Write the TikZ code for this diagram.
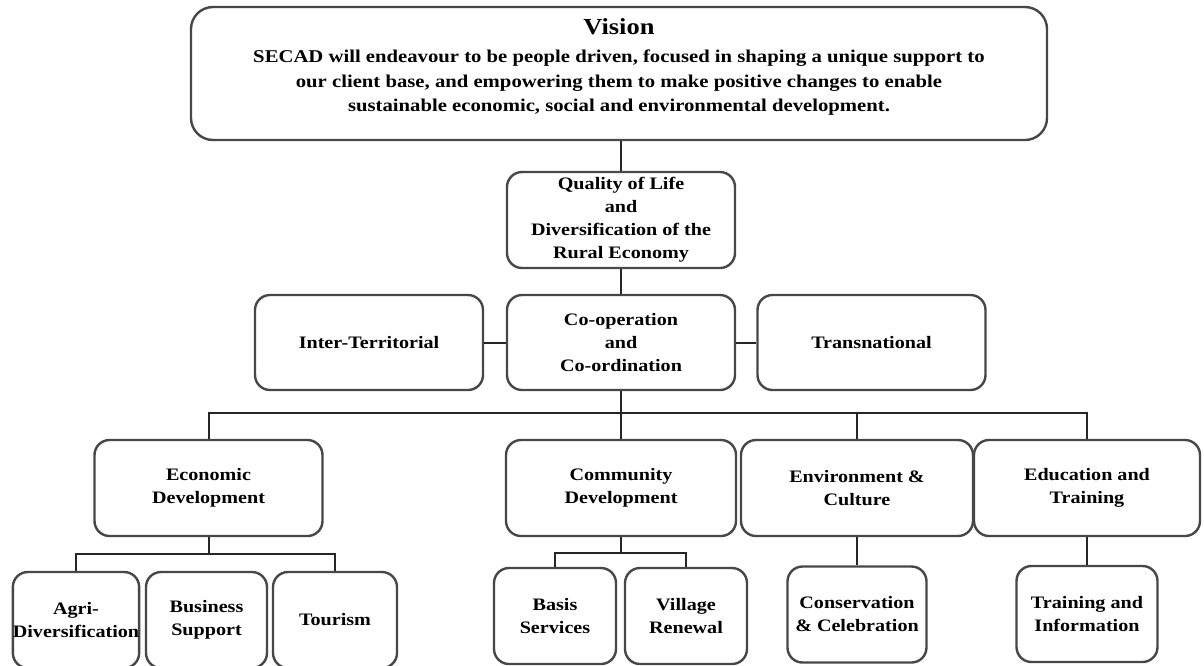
\documentclass[tikz,border=0pt]{standalone}
\usepackage{fontspec}
\setmainfont{Liberation Serif}[FakeStretch=1.15]
\usepackage{tikz}
\usetikzlibrary{positioning}

\begin{document}
\begin{tikzpicture}[x=1pt, y=-1pt,
    box/.style={draw=black!72, line width=2.4pt, rounded corners=15pt, fill=white,
        align=center, inner sep=0pt, minimum width=228pt, minimum height=96pt,
        font=\fontsize{17.5}{23}\selectfont\bfseries},
    link/.style={draw=black!85, line width=2pt}]
    \useasboundingbox (0,0) rectangle (1204,665);
    \clip (0,0) rectangle (1204,665);

    % Vision
    \node[box, minimum width=856pt, minimum height=133pt, rounded corners=22pt] (vision) at (619,73.5) {};
    \node[anchor=north, align=center, inner sep=0pt, font=\fontsize{18}{24.5}\selectfont\bfseries] (visiontext) at (619,18)
        {{\fontsize{23}{26}\selectfont Vision}\\[4pt]
         SECAD will endeavour to be people driven, focused in shaping a unique support to\\
         our client base, and empowering them to make positive changes to enable\\
         sustainable economic, social and environmental development.};

    % Hauptachse
    \node[box] (quality) at (621,220) {Quality of Life\\and\\Diversification of the\\Rural Economy};
    \node[box, minimum height=95pt] (coop) at (621,342.5) {Co-operation\\and\\Co-ordination};
    \node[box, minimum height=95pt] (inter) at (369,342.5) {Inter-Territorial};
    \node[box, minimum height=95pt] (trans) at (871.5,342.5) {Transnational};

    % Themen
    \node[box] (econ) at (208.5,488) {Economic\\Development};
    \node[box, minimum width=230pt] (comm) at (621,488) {Community\\Development};
    \node[box, minimum width=232pt] (env) at (857,488) {Environment \&\\Culture};
    \node[box, minimum width=226pt] (edu) at (1087,488) {Education and\\Training};

    % Massnahmen
    \node[box, minimum width=126pt] (agri) at (76,620) {Agri-\\Diversification};
    \node[box, minimum width=121pt] (business) at (206.5,620) {Business\\Support};
    \node[box, minimum width=124pt] (tourism) at (335,620) {Tourism};
    \node[box, minimum width=122pt] (basis) at (555,616) {Basis\\Services};
    \node[box, minimum width=122pt] (village) at (686,616) {Village\\Renewal};
    \node[box, minimum width=139pt] (conserv) at (857,614.5) {Conservation\\\& Celebration};
    \node[box, minimum width=141pt] (train) at (1087,614) {Training and\\Information};

    % Verbindungen
    \draw[link] (vision.south -| quality.north) -- (quality.north);
    \draw[link] (quality.south) -- (coop.north);
    \draw[link] (inter.east) -- (coop.west);
    \draw[link] (coop.east) -- (trans.west);

    \coordinate (hub) at (621,413);
    \draw[link] (coop.south) -- (hub);
    \draw[link] (econ.north) |- (hub) -| (edu.north);
    \draw[link] (hub) -- (comm.north);
    \draw[link] (env.north) -- (env.north |- hub);

    \coordinate (econhub) at ([yshift=-17pt]econ.south);
    \draw[link] (econ.south) -- (econhub);
    \draw[link] (agri.north) |- (econhub) -| (tourism.north);

    \coordinate (commhub) at ([yshift=-16pt]comm.south);
    \draw[link] (comm.south) -- (commhub);
    \draw[link] (basis.north) |- (commhub) -| (village.north);

    \draw[link] (env.south) -- (conserv.north);
    \draw[link] (edu.south) -- (train.north);
\end{tikzpicture}
\end{document}
